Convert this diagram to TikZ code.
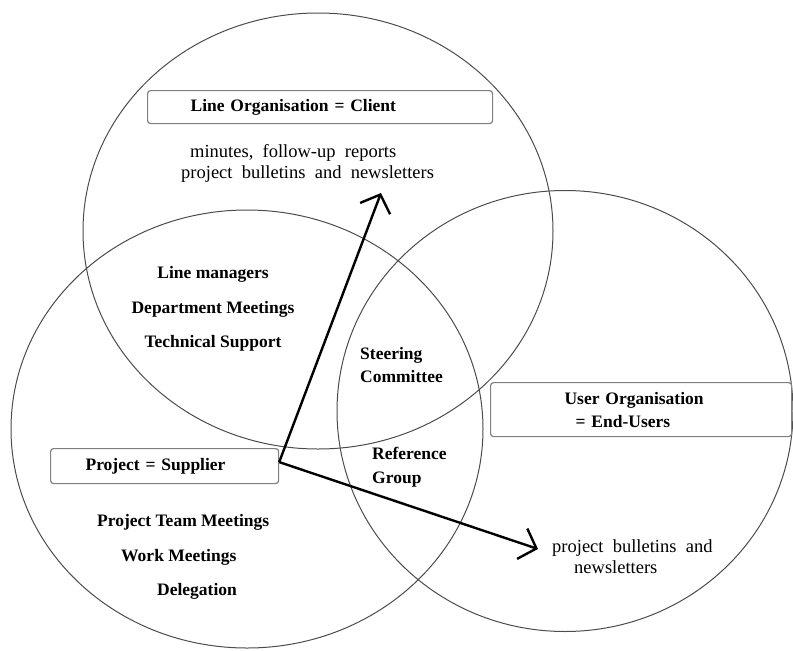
\documentclass[tikz,border=0pt]{standalone}
\usepackage{fontspec}
\setmainfont{Liberation Serif}
\usetikzlibrary{shapes.geometric,arrows.meta,positioning}

\tikzset{
  area/.style={draw=black!70,line width=1pt,ellipse,inner sep=0pt},
  orgbox/.style={draw=black!50,fill=white,line width=1.2pt,rounded corners=3pt,
    inner sep=0pt,align=left,anchor=north west,
    font=\bfseries\fontsize{17.5}{23}\selectfont},
  topic/.style={inner sep=0pt,font=\bfseries\fontsize{17.5}{34.5}\selectfont},
  pair/.style={inner sep=0pt,align=left,anchor=west,
    font=\bfseries\fontsize{17.5}{23.5}\selectfont},
  info/.style={inner sep=0pt,align=left,anchor=west,
    font=\fontsize{18.5}{21}\selectfont,
    execute at begin node={\spaceskip=0.5em\relax}},
  flow/.style={line width=2.4pt,-{Straight Barb[length=15pt,width=32pt]}}
}

\begin{document}
\begin{tikzpicture}[x=1pt,y=-1pt]
  \useasboundingbox (0,0) rectangle (793,651);
  % the three organisations
  \node(lineorg)[area,minimum width=470pt,minimum height=436pt] at (318,231) {};
  \node(project)[area,minimum width=472pt,minimum height=438pt] at (247,429) {};
  \node(userorg)[area,minimum width=456pt,minimum height=441pt] at (565,411) {};

  % role boxes
  \node(client)[orgbox,text width=345pt,minimum height=33pt] at (147,90)
    {\hspace*{43pt}Line Organisation = Client};
  \node(supplier)[orgbox,text width=228pt,minimum height=35pt] at (50,448)
    {\hspace*{35pt}Project = Supplier};
  \node(endusers)[orgbox,text width=301pt,minimum height=54pt] at (490,382)
    {\hspace*{74pt}User Organisation\\\hspace*{85pt}= End-Users};

  % channels
  \node(reports)[info] at (181,163)
    {\hspace*{9pt}minutes, follow-up reports\\project bulletins and newsletters};
  \node(bulletins)[info] at (552,557)
    {project bulletins and\\\hspace*{22pt}newsletters};
  \node(linemgmt)[topic,align=center] at (213,309)
    {Line managers\\Department Meetings\\Technical Support};
  \node(teamwork)[topic,align=left,anchor=west] at (97,557)
    {Project Team Meetings\\\hspace*{24pt}Work Meetings\\\hspace*{60pt}Delegation};
  \node(steering)[pair] at (360,365) {Steering\\Committee};
  \node(refgroup)[pair] at (372,467) {Reference\\Group};

  \coordinate(hub) at ([yshift=4pt]supplier.east);
  \coordinate(toclient) at (381,193);
  \coordinate(tousers) at (538,549);
  \path[flow] (hub) edge (toclient)
              (hub) edge (tousers);
\end{tikzpicture}
\end{document}
